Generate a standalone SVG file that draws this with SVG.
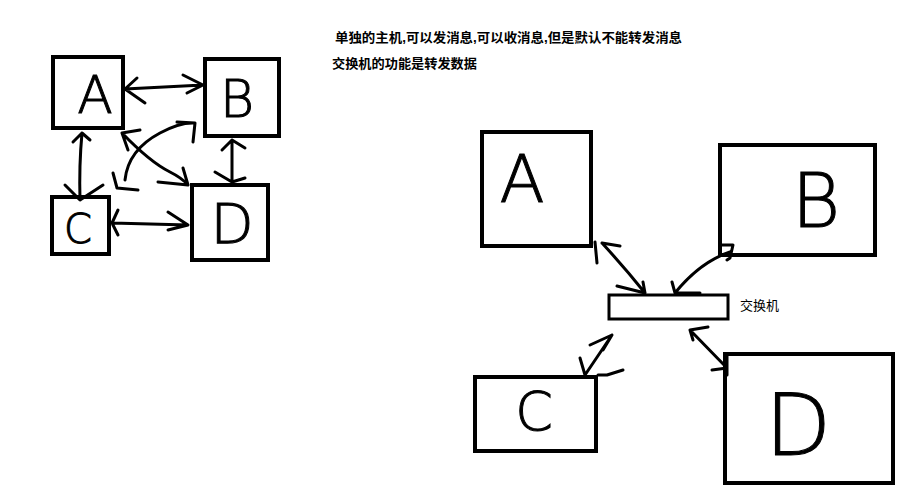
<svg xmlns="http://www.w3.org/2000/svg" width="908" height="501" viewBox="0 0 908 501">
<style>
.box{fill:none;stroke:#000;stroke-width:4}
.sw{fill:none;stroke:#000;stroke-width:3}
.c{fill:none;stroke:#000;stroke-width:3;stroke-linecap:round;stroke-linejoin:round}
.L{font-family:"DejaVu Sans","Liberation Sans",sans-serif;font-weight:200;fill:#000;stroke:#000;stroke-width:1;text-anchor:middle}
.t{font-family:"Liberation Sans","Noto Sans CJK SC",sans-serif;fill:#000}
</style>
<rect width="908" height="501" fill="#fff"/>
<g id="note">
<text class="t" x="335" y="42" font-size="13" font-weight="bold" textLength="347" lengthAdjust="spacingAndGlyphs">单独的主机,可以发消息,可以收消息,但是默认不能转发消息</text>
<text class="t" x="332" y="68" font-size="13" font-weight="bold" textLength="145" lengthAdjust="spacingAndGlyphs">交换机的功能是转发数据</text>
</g>
<g id="left-A"><rect class="box" x="53" y="57" width="70" height="71"/><text class="L" x="95" y="113" font-size="52">A</text></g>
<g id="left-B"><rect class="box" x="205" y="59" width="74" height="77"/><text class="L" x="237" y="117" font-size="52">B</text></g>
<g id="left-C"><rect class="box" x="52" y="197" width="57" height="57"/><text class="L" x="78" y="243" font-size="40">C</text></g>
<g id="left-D"><rect class="box" x="192" y="185" width="76" height="75"/><text class="L" x="232" y="243" font-size="56">D</text></g>
<g id="right-A"><rect class="box" x="482" y="132" width="109" height="114"/><text class="L" x="522" y="202" font-size="66">A</text></g>
<g id="right-B"><rect class="box" x="720" y="145" width="155" height="110"/><text class="L" x="816" y="227" font-size="74">B</text></g>
<g id="right-C"><rect class="box" x="475" y="377" width="121" height="74"/><text class="L" x="534" y="430" font-size="54">C</text></g>
<g id="right-D"><rect class="box" x="725" y="354" width="168" height="129"/><text class="L" x="798" y="455" font-size="86">D</text></g>
<g id="switch"><rect class="sw" x="609" y="295" width="119" height="24"/><text class="t" x="740" y="310" font-size="13">交换机</text></g>
<g id="connectors">
<path class="c" d="M125 89 L203 85 M137 78 L125 89 L145 103 M183 75 L203 85 L187 93"/>
<path class="c" d="M82 133 Q79 165 80 200 M73 142 L82 133 L90 140 M65 185 L80 200 L103 185"/>
<path class="c" d="M232 140 L232 182 M222 150 L232 140 L245 148 M215 172 L232 182 L245 178"/>
<path class="c" d="M112 223 L188 225 M118 210 L112 223 L118 235 M168 212 L188 225 L168 230"/>
<path class="c" d="M122 133 Q150 162 170 172 Q182 178 188 185 M128 150 L122 133 L140 130 M183 168 L188 185 L158 182"/>
<path class="c" d="M125 180 Q128 150 160 133 Q180 122 195 123 M177 122 L195 123 L193 142 M113 173 L117 188 L138 190"/>
<path class="c" d="M602 243 Q625 268 645 293 M595 242 L597 263 M602 243 L620 246 M617 286 L645 293 L643 282"/>
<path class="c" d="M730 252 Q700 262 675 293 M672 282 L675 293 L700 293 M722 245 L733 245 L730 258 L727 260"/>
<path class="c" d="M585 375 L612 335 M590 345 L612 335 L603 350 M580 358 L585 375 M598 375 L607 375 L623 370"/>
<path class="c" d="M690 330 L727 368 M708 327 L690 330 L693 340 M712 370 L727 368 M727 355 L727 375"/>
</g>
</svg>
